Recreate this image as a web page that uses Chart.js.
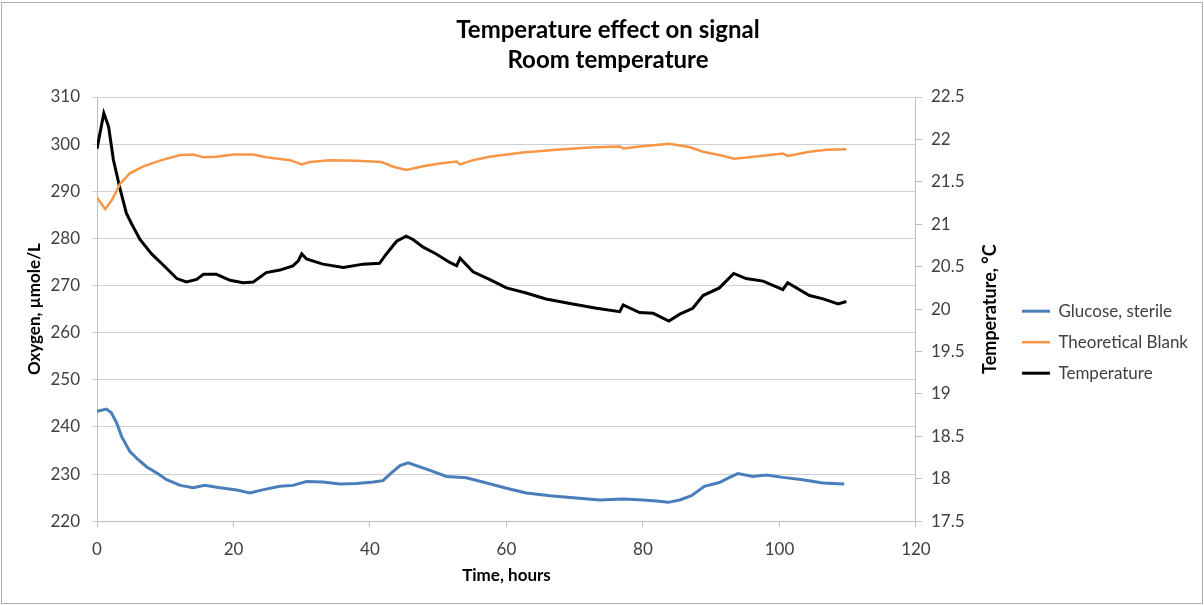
<!DOCTYPE html>
<html>
<head>
<meta charset="utf-8">
<script src="https://cdn.jsdelivr.net/npm/chart.js@4.4.1/dist/chart.umd.min.js"></script>
<style>
  body { margin: 0; background: #fff; }
  #wrap { position: relative; width: 1204px; height: 605px; }
  #frame { position: absolute; left: 1px; top: 2px; right: 1px; bottom: 1px; border: 1px solid #b0b0b0; pointer-events: none; }
</style>
</head>
<body>
<div id="wrap"><canvas id="chart"></canvas><div id="frame"></div></div>
<script>
// values

const glucoseHours = [0, 1.4, 2.1, 2.9, 3.6, 4.8, 6.0, 7.3, 9.0, 10.2, 12.2, 14.1, 15.8, 18, 20.5, 22.4, 24.4, 26.8, 28.7, 30.7, 33.1, 35.6, 38, 40.5, 41.9, 43.1, 44.4, 45.6, 46.8, 48.8, 51.2, 54.1, 57.1, 60, 62.9, 66.4, 69.8, 73.7, 77.1, 80, 82, 83.7, 85.4, 87.1, 89, 91.2, 92.7, 93.9, 96.1, 98.1, 100.5, 103.4, 106.4, 109.5]
const glucoseValues = [243.3, 243.8, 243, 240.8, 238, 234.8, 233.1, 231.5, 230, 228.8, 227.6, 227.1, 227.6, 227.1, 226.6, 226, 226.7, 227.4, 227.6, 228.4, 228.3, 227.9, 228, 228.3, 228.6, 230.2, 231.8, 232.4, 231.8, 230.8, 229.5, 229.2, 228.1, 227, 226, 225.4, 225, 224.5, 224.7, 224.5, 224.3, 224, 224.5, 225.4, 227.4, 228.2, 229.3, 230.1, 229.5, 229.8, 229.3, 228.8, 228.1, 227.9]

const blankHours = [0, 1.2, 2.15, 3.4, 4.8, 6.8, 9.2, 12.2, 14.1, 15.6, 17.5, 20, 22.9, 24.8, 28.3, 30, 31.2, 34.1, 38, 41.7, 43.4, 45.3, 47.8, 50.2, 52.7, 53.2, 55.1, 57.5, 62.4, 67.3, 72.2, 76.6, 77.1, 79.5, 81.9, 83.8, 86.8, 88.8, 91.2, 93.4, 96.6, 100.5, 101.2, 104.4, 106.9, 109.8]
const blankValues = [288.7, 286.2, 288.1, 291.6, 293.8, 295.3, 296.5, 297.7, 297.8, 297.2, 297.3, 297.8, 297.8, 297.2, 296.6, 295.7, 296.2, 296.6, 296.5, 296.2, 295.2, 294.5, 295.3, 295.9, 296.3, 295.7, 296.6, 297.3, 298.2, 298.8, 299.3, 299.5, 299.1, 299.5, 299.8, 300.1, 299.4, 298.4, 297.7, 296.9, 297.4, 298, 297.5, 298.4, 298.8, 298.9]

const tempHours = [0, 1.0, 1.7, 2.4, 3.4, 4.3, 5.1, 6.3, 8.0, 9.7, 11.7, 13.1, 14.6, 15.6, 17.5, 19.5, 21.4, 22.9, 24.8, 26.8, 28.7, 29.5, 30, 30.7, 33.1, 36.1, 39, 41.4, 42.4, 43.9, 45.3, 46.3, 47.8, 49.7, 51.7, 52.7, 53.2, 55.1, 57.5, 60, 62.9, 65.8, 69.7, 73.2, 76.6, 77.1, 79.5, 81.5, 83.8, 85.4, 87.3, 88.8, 91.2, 93.3, 95.1, 97.6, 100.5, 101.2, 104.4, 106.4, 108.6, 109.8]
const tempValues = [21.89, 22.31, 22.15, 21.76, 21.41, 21.13, 21.0, 20.82, 20.65, 20.52, 20.36, 20.32, 20.35, 20.41, 20.41, 20.34, 20.31, 20.32, 20.43, 20.46, 20.51, 20.57, 20.65, 20.59, 20.53, 20.49, 20.53, 20.54, 20.65, 20.8, 20.86, 20.82, 20.73, 20.65, 20.55, 20.51, 20.6, 20.44, 20.35, 20.25, 20.19, 20.12, 20.06, 20.01, 19.97, 20.05, 19.96, 19.95, 19.86, 19.94, 20.01, 20.16, 20.25, 20.42, 20.36, 20.33, 20.23, 20.31, 20.16, 20.12, 20.06, 20.09]

const xTicks = [0, 20, 40, 60, 80, 100, 120]
const oxygenTicks = [220, 230, 240, 250, 260, 270, 280, 290, 300, 310]
const tempTicks = [17.5, 18, 18.5, 19, 19.5, 20, 20.5, 21, 21.5, 22, 22.5]

const toPoints = (xs, ys) => xs.map((x, i) => ({ x: x, y: ys[i] }))

Chart.defaults.font.family = 'Lato, "Open Sans", sans-serif'
Chart.defaults.color = '#404040'

// right axis title reads bottom-to-top like the left one
const rightTitle = {
  id: 'rightTitle',
  afterDraw(chart) {
    const ctx = chart.ctx
    const area = chart.chartArea
    ctx.save()
    ctx.translate(990, (area.top + area.bottom) / 2)
    ctx.rotate(-Math.PI / 2)
    ctx.font = 'bold 18px Lato, "Open Sans", sans-serif'
    ctx.fillStyle = '#000'
    ctx.textAlign = 'center'
    ctx.textBaseline = 'middle'
    ctx.fillText('Temperature, °C', 0, 0)
    ctx.restore()
  },
}

const canvas = document.getElementById('chart')
new Chart(canvas, {
  type: 'line',
  data: {
    datasets: [
      {
        label: 'Glucose, sterile',
        data: toPoints(glucoseHours, glucoseValues),
        borderColor: '#4a7ebb',
        backgroundColor: '#4a7ebb',
        borderWidth: 3,
        yAxisID: 'y',
      },
      {
        label: 'Theoretical Blank',
        data: toPoints(blankHours, blankValues),
        borderColor: '#f79646',
        backgroundColor: '#f79646',
        borderWidth: 2.5,
        yAxisID: 'y',
      },
      {
        label: 'Temperature',
        data: toPoints(tempHours, tempValues),
        borderColor: '#000000',
        backgroundColor: '#000000',
        borderWidth: 3,
        yAxisID: 'y1',
      },
    ],
  },
  options: {
    responsive: true,
    maintainAspectRatio: false,
    animation: false,
    elements: { point: { radius: 0 }, line: { tension: 0 } },
    layout: { padding: { left: 18, right: 6, top: 5, bottom: 19 } },
    scales: {
      x: {
        type: 'linear',
        min: xTicks[0],
        max: xTicks[xTicks.length - 1],
        ticks: { stepSize: 20, font: { size: 17 }, padding: 12 },
        grid: { drawOnChartArea: false, tickLength: 6, color: '#bfbfbf' },
        border: { color: '#bfbfbf' },
        title: { display: true, text: 'Time, hours', color: '#000', font: { size: 17, weight: 'bold' }, padding: { top: -6, bottom: 0 } },
      },
      y: {
        position: 'left',
        min: oxygenTicks[0],
        max: oxygenTicks[oxygenTicks.length - 1],
        ticks: { stepSize: 10, font: { size: 17 }, padding: 12 },
        grid: { color: '#d0d0d0', tickLength: 5 },
        border: { color: '#bfbfbf' },
        title: { display: true, text: 'Oxygen, µmole/L', color: '#000', font: { size: 17, weight: 'bold' }, padding: { top: 6 } },
        afterFit(scale) { scale.width = 79 },
      },
      y1: {
        position: 'right',
        min: tempTicks[0],
        max: tempTicks[tempTicks.length - 1],
        ticks: { stepSize: 0.5, font: { size: 17 }, padding: 9, callback: (v) => String(+v.toFixed(1)) },
        grid: { drawOnChartArea: false, tickLength: 6, color: '#bfbfbf' },
        border: { color: '#bfbfbf' },
        afterFit(scale) { scale.width = 92 },
      },
    },
    plugins: {
      title: {
        display: true,
        text: ['Temperature effect on signal', 'Room temperature'],
        color: '#000',
        font: { size: 24, weight: 'bold', lineHeight: 1.25 },
        padding: { top: 10, bottom: 22 },
      },
      legend: {
        position: 'right',
        title: { display: true, text: '', padding: { top: 0, bottom: 79 } },
        labels: {
          usePointStyle: true,
          pointStyle: 'line',
          pointStyleWidth: 28,
          color: '#404040',
          font: { size: 17 },
          padding: 14,
        },
      },
      tooltip: { enabled: false },
    },
  },
  plugins: [rightTitle],
})
</script>
</body>
</html>
